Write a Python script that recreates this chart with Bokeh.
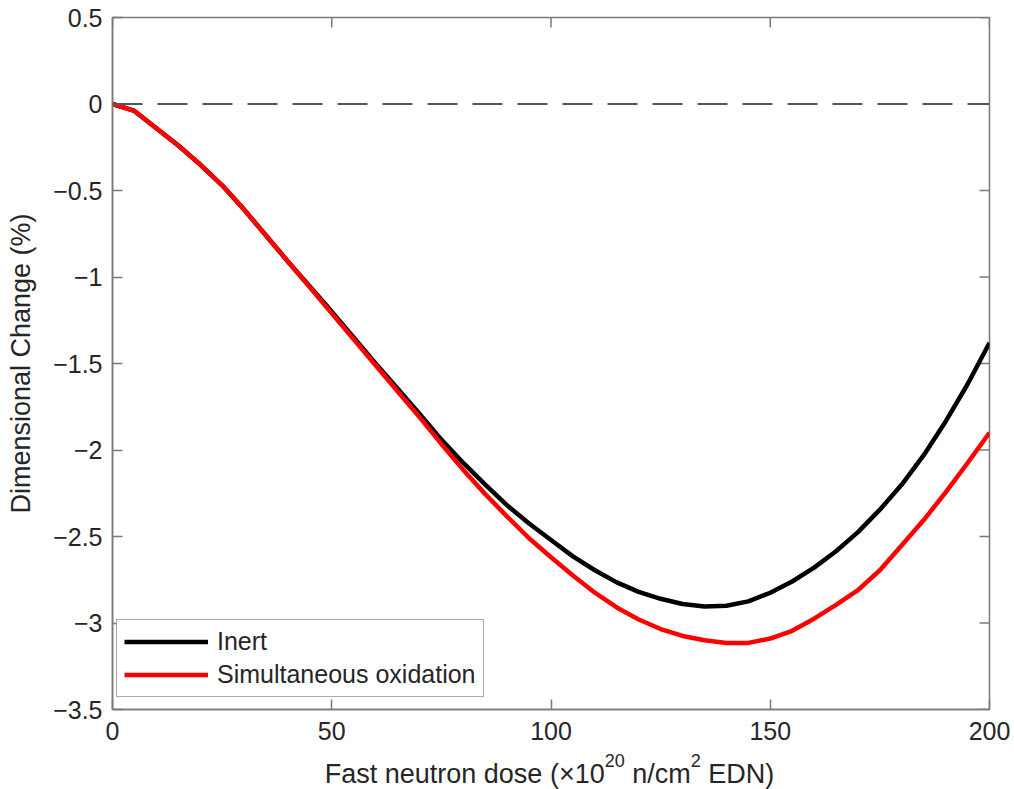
import math
from bokeh.plotting import figure
from bokeh.models import Range1d, FixedTicker, Span, Legend, LegendItem, Div
from bokeh.layouts import column
from bokeh.embed import file_html
from bokeh.resources import INLINE

# ---- data ----
dose = [0, 5, 10, 15, 20, 25, 30, 35, 40, 45, 50, 55, 60, 65, 70, 75, 80, 85,
        90, 95, 100, 105, 110, 115, 120, 125, 130, 135, 140, 145, 150, 155,
        160, 165, 170, 175, 180, 185, 190, 195, 200]
inert = [0.0, -0.04, -0.14, -0.24, -0.35, -0.47, -0.61, -0.76, -0.91, -1.055,
         -1.20, -1.35, -1.50, -1.645, -1.79, -1.94, -2.075, -2.20, -2.32,
         -2.425, -2.52, -2.615, -2.695, -2.765, -2.82, -2.86, -2.89, -2.905,
         -2.90, -2.875, -2.825, -2.76, -2.68, -2.585, -2.475, -2.345, -2.20,
         -2.03, -1.835, -1.62, -1.38]
oxid = [0.0, -0.04, -0.14, -0.24, -0.35, -0.47, -0.61, -0.76, -0.91, -1.06,
        -1.21, -1.36, -1.51, -1.66, -1.81, -1.965, -2.115, -2.255, -2.385,
        -2.51, -2.62, -2.725, -2.825, -2.91, -2.98, -3.035, -3.075, -3.10,
        -3.115, -3.115, -3.09, -3.045, -2.975, -2.895, -2.81, -2.695, -2.55,
        -2.405, -2.245, -2.075, -1.90]

x_ticks = [0, 50, 100, 150, 200]
y_ticks = [0.5, 0, -0.5, -1, -1.5, -2, -2.5, -3, -3.5]
y_tick_labels = ["0.5", "0", "\u22120.5", "\u22121", "\u22121.5", "\u22122",
                 "\u22122.5", "\u22123", "\u22123.5"]
series_names = ["Inert", "Simultaneous oxidation"]
series_colors = ["#000000", "#ff0000"]
y_title = "Dimensional Change (%)"
x_title_html = ("Fast neutron dose (\u00d710<sup>20</sup> n/cm<sup>2</sup> EDN)")

X0, X1 = 0, 200
Y0, Y1 = -3.5, 0.5

FONT = "Liberation Sans"
AX = "#7a7a7a"
TXT = "#262626"

W, H = 1014, 789
TITLE_H = 34

p = figure(width=W, height=H - TITLE_H, output_backend="svg",
           toolbar_location=None,
           x_range=Range1d(X0, X1), y_range=Range1d(Y0, Y1),
           min_border_left=112, min_border_right=25, min_border_top=17,
           min_border_bottom=46)
p.outline_line_color = AX
p.outline_line_width = 1.5
p.xgrid.visible = False
p.ygrid.visible = False
p.background_fill_color = "white"
p.border_fill_color = "white"

def style(ax):
    ax.axis_line_color = AX
    ax.axis_line_width = 1.5
    ax.major_tick_line_color = AX
    ax.major_tick_line_width = 1.5
    ax.major_tick_in = 10
    ax.major_tick_out = 0
    ax.minor_tick_line_color = None
    ax.major_label_text_font = FONT
    ax.major_label_text_font_size = "25px"
    ax.major_label_text_color = TXT
    ax.axis_label_text_font = FONT
    ax.axis_label_text_font_size = "27px"
    ax.axis_label_text_font_style = "normal"
    ax.axis_label_text_color = TXT

xa = p.xaxis[0]
ya = p.yaxis[0]
xa.ticker = FixedTicker(ticks=x_ticks)
ya.ticker = FixedTicker(ticks=y_ticks)
ya.major_label_overrides = {float(v): s for v, s in zip(y_ticks, y_tick_labels)}
style(xa)
style(ya)
xa.major_label_standoff = 12
ya.major_label_standoff = 10
ya.axis_label = y_title
ya.axis_label_standoff = 14

# inward ticks on the top and right edges of the box
p.ray(x=x_ticks, y=[Y1] * len(x_ticks), length=10, length_units="screen",
      angle=-math.pi / 2, line_color=AX, line_width=1.5)
p.ray(x=[X1] * len(y_ticks), y=y_ticks, length=10, length_units="screen",
      angle=math.pi, line_color=AX, line_width=1.5)

p.add_layout(Span(location=0, dimension="width", line_color="#555555",
                  line_width=2, line_dash="30 15"))

r1 = p.line(dose, inert, line_color=series_colors[0], line_width=4.5)
r2 = p.line(dose, oxid, line_color=series_colors[1], line_width=4.5)

legend = Legend(items=[LegendItem(label=series_names[0], renderers=[r1]),
                       LegendItem(label=series_names[1], renderers=[r2])],
                location=(4, 12))
legend.label_text_font = FONT
legend.label_text_font_size = "25px"
legend.label_text_color = TXT
legend.border_line_color = "#555555"
legend.border_line_width = 1.5
legend.background_fill_alpha = 1
legend.glyph_width = 84
legend.glyph_height = 25
legend.label_height = 25
legend.label_standoff = 9
legend.padding = 7
legend.spacing = 4
legend.margin = 0
p.add_layout(legend, "center")

# x-axis title (with real superscripts) centred under the plot frame
sup_style = "font-size:18px;vertical-align:16px;line-height:0;"
title_text = x_title_html.replace("<sup>", f'<sup style="{sup_style}">')
xt = Div(text=title_text, width=W, height=TITLE_H,
         styles={"font-family": FONT, "font-size": "27px", "color": TXT,
                 "line-height": "28px", "padding-top": "0px",
                 "padding-left": "75px", "text-align": "center",
                 "white-space": "nowrap", "box-sizing": "border-box",
                 "overflow": "visible"})

layout = column(p, xt, spacing=0)
open("out.html", "w").write(file_html(layout, INLINE))
